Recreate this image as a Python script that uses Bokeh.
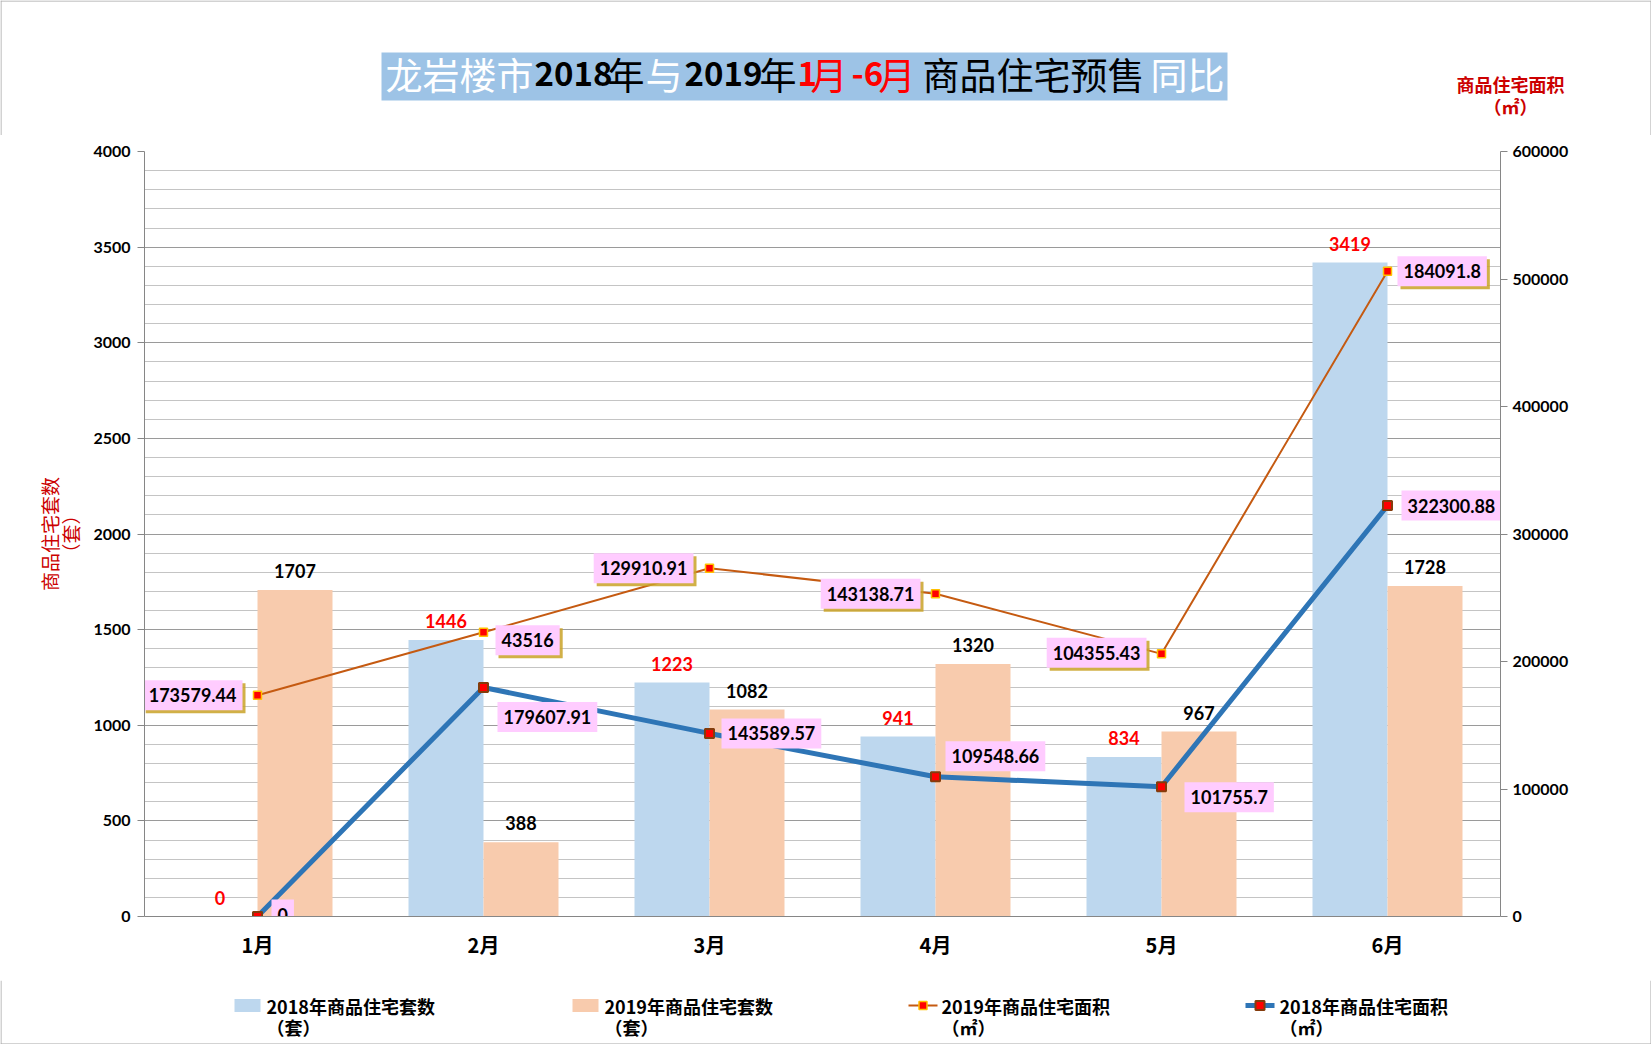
import math
from bokeh.plotting import figure
from bokeh.layouts import column
from bokeh.models import (ColumnDataSource, FactorRange, Range1d, LinearAxis, SingleIntervalTicker,
                          NumeralTickFormatter)
from bokeh.transform import dodge
from bokeh.core.properties import value
from bokeh.embed import file_html
from bokeh.resources import INLINE

# ---------------- data ----------------
months = ["1月", "2月", "3月", "4月", "5月", "6月"]
units_2018 = [0, 1446, 1223, 941, 834, 3419]
units_2019 = [1707, 388, 1082, 1320, 967, 1728]
area_2018 = [0, 179607.91, 143589.57, 109548.66, 101755.7, 322300.88]
area_2018_text = ["0", "179607.91", "143589.57", "109548.66", "101755.7", "322300.88"]
area_2019 = [173579.44, 223000, 273200, 253100, 206000, 506100]
area_2019_text = ["173579.44", "43516", "129910.91", "143138.71", "104355.43", "184091.8"]
legend_names = ["2018年商品住宅套数", "2019年商品住宅套数", "2019年商品住宅面积", "2018年商品住宅面积"]
legend_units = ["（套）", "（套）", "（㎡）", "（㎡）"]
title_runs = ["龙岩楼市", "2018", "年", "与", "2019", "年", "1", "月", "-6", "月",
              "商品住宅预售", "同比"]
left_title = "商品住宅套数\n（套）"
right_title = ["商品住宅面积", "（㎡）"]

# ---------------- layout constants ----------------
W, H = 1651, 1044
HT = 135                 # header strip height
HL = 64                  # legend strip height
HM = H - HT - HL         # main chart height
FL, FR, FT, FB = 144, 1500, 151, 916   # plot frame in page pixels
YMAX, RMAX = 4000, 600000
PXX = len(months) / (FR - FL)
PXY = YMAX / (FB - FT)
PXR = RMAX / (FB - FT)
CJK = "Noto Sans CJK SC"
NUM = "Lato"
BW = 75 / 226
RED = "#FF0000"
AXRED = "#CC0000"
EDGE = "#A6A6A6"


def strip(height, y_top):
    f = figure(width=W, height=height, x_range=Range1d(0, W),
               y_range=Range1d(y_top + height, y_top), output_backend="svg",
               toolbar_location=None, min_border=0, min_border_left=0, min_border_right=0,
               min_border_top=0, min_border_bottom=0, outline_line_color=None,
               background_fill_color="white", border_fill_color="white", frame_align=False)
    f.axis.visible = False
    f.grid.visible = False
    return f


# ---------------- header ----------------
top = strip(HT, 0)
top.quad(left=[381], right=[1227], top=[52], bottom=[100], fill_color="#9DC3E6", line_color=None)
run_x = [385, 534, 607, 645, 684, 759, 797, 810, 851, 878, 922, 1150]
run_c = ["white", "black", "black", "white", "black", "black", RED, RED, RED, RED,
         "black", "white"]
run_s = ["normal", "bold", "normal", "normal", "bold", "normal", "bold", "normal", "bold",
         "normal", "normal", "normal"]
run_f = ["37px", "33px", "37px", "37px", "33px", "37px", "33px", "37px", "33px", "37px",
         "37px", "37px"]
top.text(x=run_x, y=[73] * len(run_x), text=title_runs, text_color=run_c, text_font_style=run_s,
         text_font=value(CJK), text_font_size=run_f, text_align="left",
         text_baseline="alphabetic")
top.text(x=[1510, 1510], y=[83, 105], text=right_title, text_color=AXRED, text_font=value(CJK),
         text_font_size="18px", text_font_style="bold", text_align="center",
         text_baseline="middle")
top.segment(x0=[0, 0.5, W - 0.5], y0=[0.5, 0, 0], x1=[W, 0.5, W - 0.5], y1=[0.5, HT, HT],
            line_color=EDGE, line_width=1)

# ---------------- main chart ----------------
p = figure(width=W, height=HM, x_range=FactorRange(factors=months, range_padding=0),
           y_range=Range1d(0, YMAX), output_backend="svg", toolbar_location=None,
           min_border_left=FL, min_border_right=W - FR, min_border_top=FT - HT,
           min_border_bottom=HT + HM - FB, background_fill_color="white",
           border_fill_color="white", outline_line_color=None, frame_align=False)
p.extra_y_ranges = {"right": Range1d(0, RMAX)}

AX = "#868686"
yt = SingleIntervalTicker(interval=500, num_minor_ticks=5)
p.yaxis.ticker = yt
p.ygrid.ticker = yt
p.yaxis.axis_line_color = AX
p.yaxis.major_tick_line_color = AX
p.yaxis.major_tick_in = 0
p.yaxis.major_tick_out = 7
p.yaxis.minor_tick_line_color = None
p.yaxis.major_label_text_font = NUM
p.yaxis.major_label_text_font_style = "bold"
p.yaxis.major_label_text_font_size = "16px"
p.yaxis.major_label_text_color = "black"
p.yaxis.major_label_standoff = 7
p.yaxis.axis_label = left_title
p.yaxis.axis_label_text_font = CJK
p.yaxis.axis_label_text_font_style = "normal"
p.yaxis.axis_label_text_font_size = "19px"
p.yaxis.axis_label_text_line_height = 0.8
p.yaxis.axis_label_text_color = AXRED
p.yaxis.axis_label_standoff = 6
p.ygrid.grid_line_color = "#9A9A9A"
p.ygrid.minor_grid_line_color = "#C4C4C4"
p.xgrid.grid_line_color = None

p.xaxis.axis_line_color = AX
p.xaxis.major_tick_line_color = None
p.xaxis.major_tick_in = 0
p.xaxis.major_tick_out = 0
p.xaxis.major_label_text_font = CJK
p.xaxis.major_label_text_font_style = "bold"
p.xaxis.major_label_text_font_size = "20px"
p.xaxis.major_label_text_color = "black"
p.xaxis.major_label_standoff = 13

ra = LinearAxis(y_range_name="right", ticker=SingleIntervalTicker(interval=100000),
                formatter=NumeralTickFormatter(format="0"))
ra.axis_line_color = AX
ra.major_tick_line_color = AX
ra.major_tick_in = 0
ra.major_tick_out = 7
ra.minor_tick_line_color = None
ra.major_label_text_font = NUM
ra.major_label_text_font_style = "bold"
ra.major_label_text_font_size = "16px"
ra.major_label_text_color = "black"
ra.major_label_standoff = 5
p.add_layout(ra, "right")

src = ColumnDataSource(dict(
    month=months, u18=units_2018, u19=units_2019,
    u18y=[v + 19 * PXY for v in units_2018], u19y=[v + 19 * PXY for v in units_2019],
    u18t=[str(v) for v in units_2018], u19t=[str(v) for v in units_2019],
    a18=area_2018, a19=area_2019))

b18 = p.vbar(x=dodge("month", -BW / 2, range=p.x_range), top="u18", width=BW,
             fill_color="#BDD7EE", line_color=None, source=src)
b19 = p.vbar(x=dodge("month", BW / 2, range=p.x_range), top="u19", width=BW,
             fill_color="#F8CBAD", line_color=None, source=src)

p.text(x=dodge("month", -BW / 2, range=p.x_range), y="u18y", text="u18t", source=src,
       text_align="center", text_baseline="middle", text_font=value(NUM),
       text_font_style="bold", text_font_size="18px", text_color=RED)
p.text(x=dodge("month", BW / 2, range=p.x_range), y="u19y", text="u19t", source=src,
       text_align="center", text_baseline="middle", text_font=value(NUM),
       text_font_style="bold", text_font_size="18px", text_color="black")

l19 = p.line("month", "a19", source=src, y_range_name="right", line_color="#C55A11", line_width=2)
s19 = p.scatter("month", "a19", source=src, y_range_name="right", marker="square", size=8,
                fill_color=RED, line_color="#FFC000", line_width=1.5)
l18 = p.line("month", "a18", source=src, y_range_name="right", line_color="#2E75B6", line_width=5)
s18 = p.scatter("month", "a18", source=src, y_range_name="right", marker="square", size=9,
                fill_color=RED, line_color="#843C0C", line_width=2)

# value boxes beside the line points
PADX, PADY = 6, 8


def box_source(vals, texts, dx, dy, side, shift=0):
    xs, ys, al = [], [], []
    for i, (v, d, e, s) in enumerate(zip(vals, dx, dy, side)):
        if s == "R":
            ex = d + PADX
            al.append("left")
        else:
            ex = d - PADX
            al.append("right")
        xs.append(i + 0.5 + (ex + shift) * PXX)
        ys.append(v - (e + shift) * PXR)
    return ColumnDataSource(dict(x=xs, y=ys, t=texts, a=al))


dx19 = [-9, 6, -10, -9, -9, 4]
dy19 = [0, 8, 0, 0, -1, 0]
side19 = ["L", "R", "L", "L", "L", "R"]
dx18 = [8, 8, 6, 4, 17, 8]
dy18 = [-2, 29.5, 0, -20.5, 10.5, 0]
side18 = ["R"] * 6

common = dict(text_align="a", text_baseline="middle", text_font=value(NUM),
              text_font_style="bold", text_font_size="18px", padding=(PADX, PADY),
              y_range_name="right")
p.text(x="x", y="y", text="t", source=box_source(area_2019, area_2019_text, dx19, dy19, side19, 3),
       text_alpha=0, background_fill_color="#C9A227", background_fill_alpha=0.85, **common)
p.text(x="x", y="y", text="t", source=box_source(area_2019, area_2019_text, dx19, dy19, side19),
       text_color="black", background_fill_color="#FFCCFF", **common)
p.text(x="x", y="y", text="t", source=box_source(area_2018, area_2018_text, dx18, dy18, side18),
       text_color="black", background_fill_color="#FFCCFF", **common)

# ---------------- legend strip ----------------
leg = strip(HL, HT + HM)
LY = 1005
leg.quad(left=[234, 572], right=[260, 598], top=[LY - 6.5] * 2, bottom=[LY + 6.5] * 2,
         fill_color=["#BDD7EE", "#F8CBAD"], line_color=None)
leg.segment(x0=[908], y0=[LY], x1=[937], y1=[LY], line_color="#C55A11", line_width=2)
leg.scatter(x=[922.5], y=[LY], marker="square", size=8, fill_color=RED, line_color="#FFC000",
            line_width=1.5)
leg.segment(x0=[1245], y0=[LY], x1=[1274], y1=[LY], line_color="#2E75B6", line_width=5)
leg.scatter(x=[1259.5], y=[LY], marker="square", size=9, fill_color=RED, line_color="#843C0C",
            line_width=2)
lx = [266, 604, 941, 1279]
leg.text(x=lx, y=[LY] * 4, text=legend_names, text_font=value(CJK), text_font_style="bold",
         text_font_size="18px", text_color="black", text_align="left", text_baseline="middle")
leg.text(x=lx, y=[1026] * 4, text=legend_units, text_font=value(CJK), text_font_style="bold",
         text_font_size="18px", text_color="black", text_align="left", text_baseline="middle")
leg.segment(x0=[0, 0.5, W - 0.5], y0=[H - 0.5, HT + HM, HT + HM], x1=[W, 0.5, W - 0.5],
            y1=[H - 0.5, H, H], line_color=EDGE, line_width=1)

layout = column(top, p, leg, spacing=0)
open("out.html", "w").write(file_html(layout, INLINE))
